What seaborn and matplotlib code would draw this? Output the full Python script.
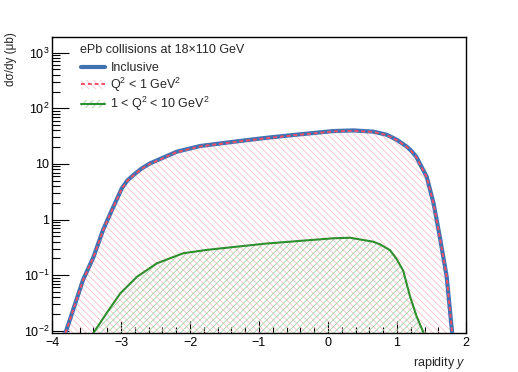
import numpy as np
import pandas as pd
import matplotlib
matplotlib.use("Agg")
import matplotlib.pyplot as plt
import seaborn as sns
from matplotlib.patches import Patch
from matplotlib.lines import Line2D
from matplotlib.ticker import FixedLocator, FuncFormatter, LogLocator, NullFormatter, MultipleLocator

# ---- data ----
incl_x = [-3.84, -3.80, -3.55, -3.40, -3.26, -3.11, -2.99, -2.91, -2.82, -2.70, -2.58, -2.19, -1.85,
          -1.37, -0.89, -0.41, 0.08, 0.37, 0.66, 0.85, 1.00, 1.14, 1.21, 1.28, 1.43, 1.53,
          1.62, 1.72, 1.80, 1.82]
incl_y = [0.007, 0.0095, 0.082, 0.21, 0.65, 1.7, 3.6, 5.0, 6.3, 8.3, 10.2, 16.6, 21.0,
          25.0, 29.5, 34.0, 39.0, 40.0, 38.0, 33.5, 27.0, 20.5, 17.0, 13.4, 5.9, 1.95,
          0.49, 0.094, 0.009, 0.006]
q2lt1_x = incl_x
q2lt1_y = [0.007, 0.0095, 0.081, 0.21, 0.64, 1.68, 3.55, 4.95, 6.2, 8.2, 10.0, 16.3, 20.6,
           24.6, 29.0, 33.5, 38.4, 39.4, 37.5, 33.0, 26.6, 20.2, 16.8, 13.2, 5.8, 1.92,
           0.48, 0.093, 0.009, 0.006]
q2mid_x = [-3.43, -3.39, -3.21, -3.01, -2.77, -2.48, -2.10, -1.75, -0.89, 0.08, 0.32,
           0.65, 0.75, 0.90, 1.00, 1.09, 1.19, 1.285, 1.38, 1.41]
q2mid_y = [0.007, 0.0095, 0.0206, 0.047, 0.093, 0.163, 0.247, 0.285, 0.37, 0.46, 0.47,
           0.40, 0.36, 0.28, 0.19, 0.12, 0.041, 0.018, 0.0095, 0.007]

labels = ["Inclusive", "Q$^2$ < 1 GeV$^2$", "1 < Q$^2$ < 10 GeV$^2$"]
header = "ePb collisions at 18×110 GeV"
ytick_vals = [1e-2, 1e-1, 1, 10, 100, 1000]
ytick_text = ["$10^{-2}$", "$10^{-1}$", "1", "10", "$10^{2}$", "$10^{3}$"]

# ---- style ----
sns.set_theme(style="white")
plt.rcParams['font.family'] = ['Liberation Sans', 'DejaVu Sans']
plt.rcParams['mathtext.fontset'] = 'custom'
plt.rcParams['mathtext.rm'] = 'Liberation Sans'
plt.rcParams['mathtext.it'] = 'Liberation Sans:italic'
plt.rcParams['mathtext.bf'] = 'Liberation Sans:bold'
plt.rcParams['hatch.linewidth'] = 0.55
plt.rcParams['axes.unicode_minus'] = True

c_blue = "#3f72b0"
c_pink = "#f0506a"
c_green = "#2f8f2f"
h_pink = "#f7bcc6"
h_green = "#9fd09f"
fs = 9

fig = plt.figure(figsize=(5.18, 3.72), dpi=100)
ax = fig.add_axes([52/518, (372-333)/372, (466-52)/518, (333-37)/372])

ylo, yhi = 0.0091, 1915

df_incl = pd.DataFrame({"y": incl_x, "v": incl_y})
df_q1 = pd.DataFrame({"y": q2lt1_x, "v": q2lt1_y})
df_q2 = pd.DataFrame({"y": q2mid_x, "v": q2mid_y})

# hatched areas
ax.fill_between(q2lt1_x, ylo * 0.5, q2lt1_y, facecolor="none", edgecolor=h_pink,
                hatch="\\\\\\\\\\", linewidth=0, zorder=1)
ax.fill_between(q2mid_x, ylo * 0.5, q2mid_y, facecolor="none", edgecolor=h_green,
                hatch="/////", linewidth=0, zorder=1.5)

sns.lineplot(data=df_incl, x="y", y="v", ax=ax, color=c_blue, lw=3.0, zorder=3)
sns.lineplot(data=df_q1, x="y", y="v", ax=ax, color=c_pink, lw=1.4, ls=(0, (2.0, 1.5)), zorder=4)
sns.lineplot(data=df_q2, x="y", y="v", ax=ax, color=c_green, lw=1.5, zorder=4)

ax.set_yscale("log")
ax.set_xlim(-4, 2)
ax.set_ylim(ylo, yhi)

ax.yaxis.set_major_locator(FixedLocator(ytick_vals))
ax.yaxis.set_major_formatter(FuncFormatter(lambda v, p: ytick_text[ytick_vals.index(v)] if v in ytick_vals else ""))
ax.yaxis.set_minor_locator(LogLocator(base=10, subs=np.arange(2, 10), numticks=20))
ax.yaxis.set_minor_formatter(NullFormatter())
ax.xaxis.set_major_locator(MultipleLocator(1))
ax.xaxis.set_minor_locator(MultipleLocator(0.2))
ax.xaxis.set_major_formatter(FuncFormatter(lambda v, p: f"{v:.0f}".replace("-", "\u2212")))

ax.tick_params(axis="both", which="both", direction="in", colors="black", labelsize=fs,
               top=False, right=False, left=True, bottom=True, width=0.8)
ax.tick_params(axis="y", which="major", length=12, pad=2)
ax.tick_params(axis="y", which="minor", length=6)
ax.tick_params(axis="x", which="major", length=9, pad=3)
ax.tick_params(axis="x", which="minor", length=4.5)

for s in ax.spines.values():
    s.set_color("black")
    s.set_linewidth(1.0)
    s.set_visible(True)

ax.set_xlabel("rapidity $y$", fontsize=fs, loc="right", labelpad=4)
ax.set_ylabel("d\u03c3/dy (\u03bcb)", fontsize=8.5, loc="top")
ax.yaxis.set_label_coords(-0.085, 1.017)

# legend
ax.text(80/518, 1 - 50/372, header, transform=fig.transFigure, fontsize=fs,
        ha="left", va="center")
h_incl = Line2D([], [], color=c_blue, lw=3.0)
h_q1 = (Patch(facecolor="none", edgecolor=h_pink, hatch="\\\\\\\\\\", linewidth=0),
        Line2D([], [], color=c_pink, lw=1.4, ls=(0, (2.0, 1.5))))
h_q2 = (Patch(facecolor="none", edgecolor=h_green, hatch="/////", linewidth=0),
        Line2D([], [], color=c_green, lw=1.5))
leg = ax.legend([h_incl, h_q1, h_q2], labels, loc="upper left",
                bbox_to_anchor=(81/518, 1 - 62/372), bbox_transform=fig.transFigure,
                frameon=False, fontsize=fs, handlelength=1.9,
                handletextpad=0.45, labelspacing=0.12, borderaxespad=0, borderpad=0)

ax.grid(False)
fig.savefig("out.png", dpi=100)
